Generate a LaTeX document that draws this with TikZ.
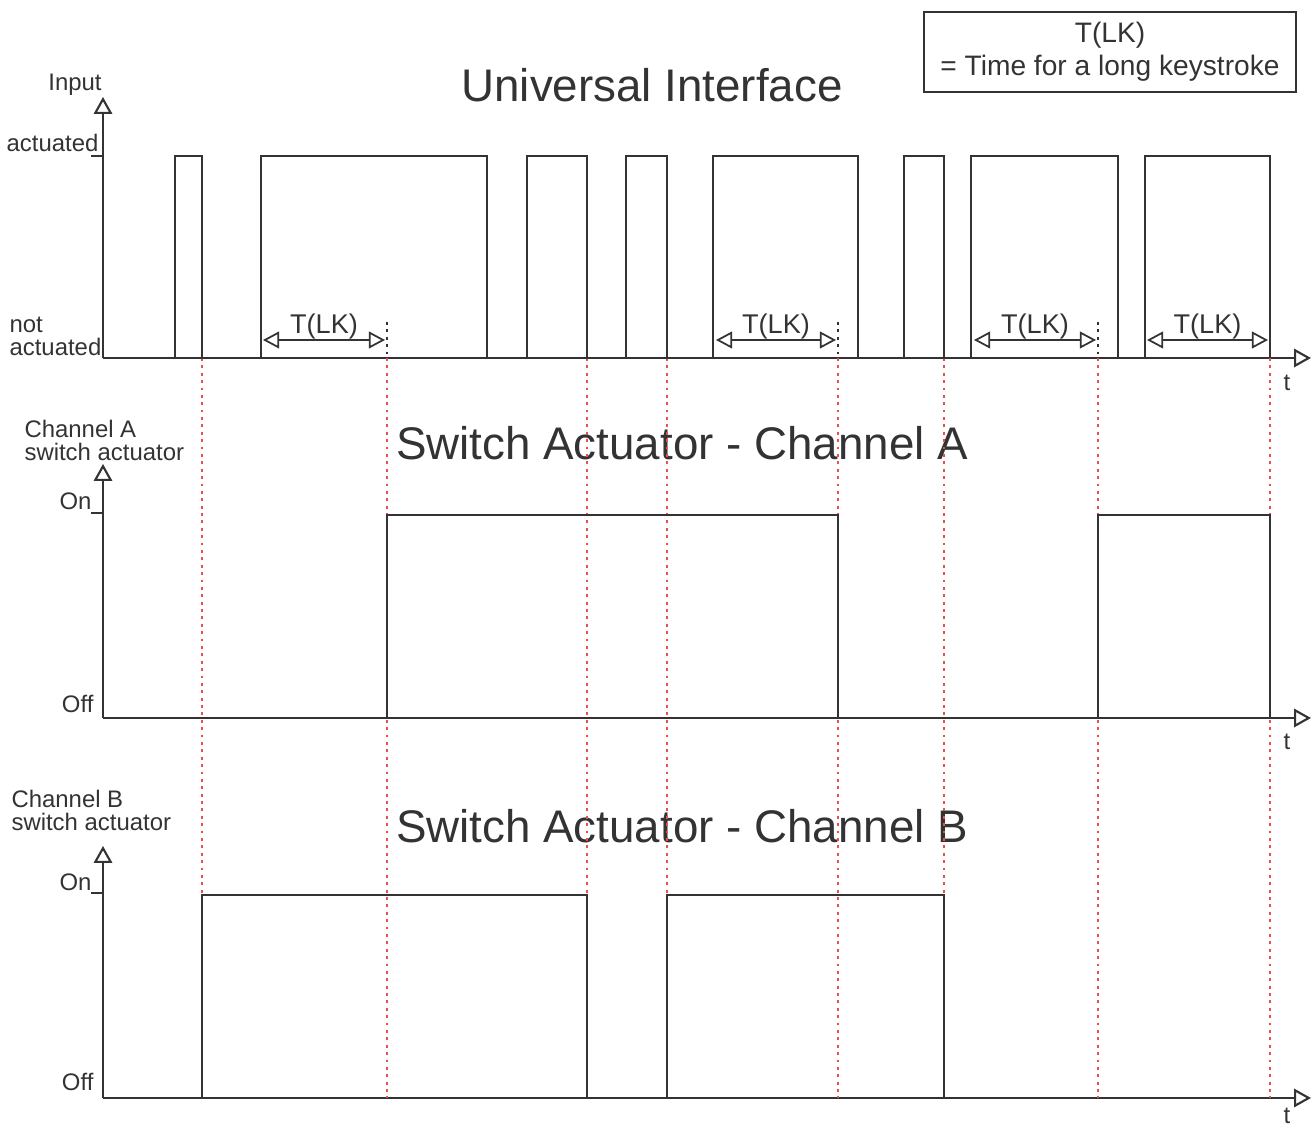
\documentclass[tikz,border=0pt]{standalone}
\usepackage{fontspec}
\setmainfont{Liberation Sans}
\usetikzlibrary{arrows.meta}

\begin{document}
\begin{tikzpicture}[x=0.01cm, y=-0.01cm, line width=0.6pt, color=black!80,
	every node/.style={inner sep=1pt},
	axlabel/.style={font=\fontsize{6.8}{6.6}\selectfont},
	tlklabel/.style={font=\fontsize{7.7}{8}\selectfont, inner sep=0pt},
	bigtitle/.style={font=\fontsize{13}{13}\selectfont},
	marker/.style={color={rgb,255:red,230;green,80;blue,80}, dash pattern=on 0.8pt off 1.3pt},
	blackmarker/.style={dash pattern=on 0.8pt off 1.3pt},
	tlk/.style={{Triangle[open,length=4.6pt,width=4.8pt]}-{Triangle[open,length=4.6pt,width=4.8pt]}, line width=0.5pt}]
		\useasboundingbox (0,0) rectangle (1314,1125);
		
		% Legende
		\node[draw, minimum width=3.72cm, minimum height=0.8cm, align=center,
			font=\fontsize{8}{9.4}\selectfont] (legend) at (1110,52) {T(LK)\\= Time for a long keystroke};
		
		% Ueberschriften
		\node[bigtitle] (uiTitle) at (652,85) {Universal Interface};
		\node[bigtitle] (chATitle) at (682,443) {Switch Actuator - Channel A};
		\node[bigtitle] (chBTitle) at (682,826) {Switch Actuator - Channel B};
		
		% Koordinatenachsen zeichnen
		\begin{scope}[>={Triangle[open,length=4.8pt,width=5.2pt]}]
			\draw[->] (103,358) to (103,97);
			\draw[->] (103,358) to (1311,358);
			\draw[->] (103,718) to (103,464);
			\draw[->] (103,718) to (1311,718);
			\draw[->] (103,1098) to (103,846);
			\draw[->] (103,1098) to (1311,1098);
		\end{scope}
		
		% Achsenbeschriftungen eintragen
		\node[axlabel] (inputLbl) at (75,85) {Input};
		\node[axlabel, anchor=base east] (actLbl) at (103,152) {actuated};
		\node[axlabel, anchor=base west, align=left] (notActLbl) at (5,356) {not\\actuated};
		\node[axlabel] (tAxisI) at (1287,383) {t};
		
		\node[axlabel, anchor=base west, align=left] (chALbl) at (20,461) {Channel A\\switch actuator};
		\node[axlabel, anchor=base east] (onALbl) at (96,510) {On};
		\node[axlabel, anchor=base east] (offALbl) at (98,713) {Off};
		\node[axlabel] (tAxisA) at (1287,742) {t};
		
		\node[axlabel, anchor=base west, align=left] (chBLbl) at (7,831) {Channel B\\switch actuator};
		\node[axlabel, anchor=base east] (onBLbl) at (96,891) {On};
		\node[axlabel, anchor=base east] (offBLbl) at (98,1091) {Off};
		\node[axlabel] (tAxisB) at (1287,1116) {t};
		
		% Achsenmarkierungen
		\draw (91,156) to (103,156);
		\draw (91,513) to (103,513);
		\draw (91,893) to (103,893);
		
		% Markierungslinien
		\draw[marker] (202,358) to (202,1098);
		\draw[marker] (387,358) to (387,1098);
		\draw[marker] (587,358) to (587,1098);
		\draw[marker] (667,358) to (667,1098);
		\draw[marker] (838,358) to (838,1098);
		\draw[marker] (944,358) to (944,1098);
		\draw[marker] (1098,358) to (1098,1098);
		\draw[marker] (1270,358) to (1270,1098);
		\draw[blackmarker] (387,322) to (387,358);
		\draw[blackmarker] (838,322) to (838,358);
		\draw[blackmarker] (1098,322) to (1098,358);
		
		% Graph zeichnen: Eingang
		\draw plot coordinates {(103,358) (175,358) (175,156) (202,156) (202,358) (261,358) (261,156)
			(487,156) (487,358) (527,358) (527,156) (587,156) (587,358) (626,358) (626,156) (667,156)
			(667,358) (713,358) (713,156) (858,156) (858,358) (904,358) (904,156) (944,156) (944,358)
			(971,358) (971,156) (1118,156) (1118,358) (1145,358) (1145,156) (1270,156) (1270,358)};
		
		% Graph zeichnen: Kanal A
		\draw plot coordinates {(387,718) (387,515) (838,515) (838,718)};
		\draw plot coordinates {(1098,718) (1098,515) (1270,515) (1270,718)};
		
		% Graph zeichnen: Kanal B
		\draw plot coordinates {(202,1098) (202,895) (587,895) (587,1098)};
		\draw plot coordinates {(667,1098) (667,895) (944,895) (944,1098)};
		
		% T(LK) Pfeile
		\draw[tlk] (263,340) to node[tlklabel, above=0pt] (tlkA) {T(LK)} (385,340);
		\draw[tlk] (716,340) to node[tlklabel, above=0pt] (tlkB) {T(LK)} (836,340);
		\draw[tlk] (974,340) to node[tlklabel, above=0pt] (tlkC) {T(LK)} (1096,340);
		\draw[tlk] (1147,340) to node[tlklabel, above=0pt] (tlkD) {T(LK)} (1268,340);
	\end{tikzpicture}
\end{document}
